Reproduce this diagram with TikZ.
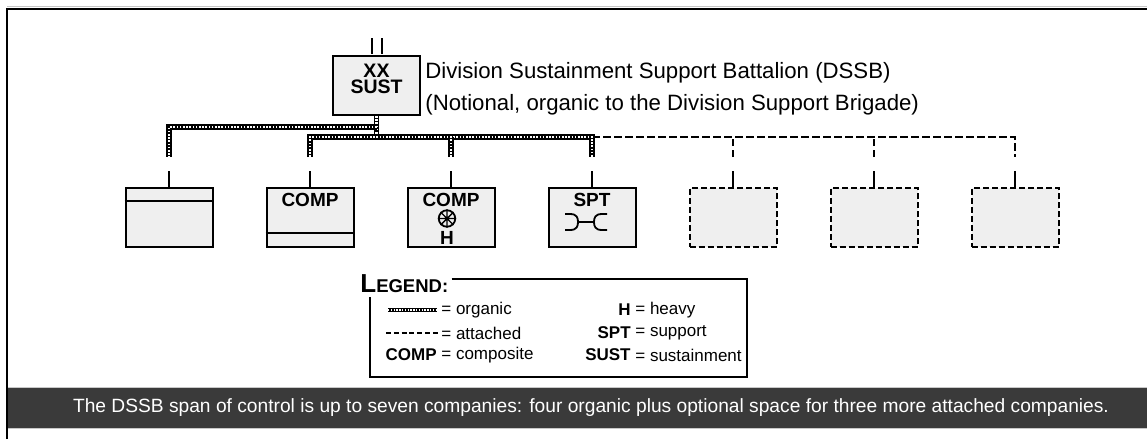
\documentclass[tikz,border=0pt]{standalone}
\usepackage{fontspec}
\setmainfont{Liberation Sans}
\usetikzlibrary{positioning,calc}
\definecolor{boxfill}{HTML}{EFEFEF}
\definecolor{bandgray}{HTML}{3A3A3A}
\definecolor{bandedge}{HTML}{C8C8C8}
\tikzset{every picture/.style={line width=0.75pt}}
\tikzset{
  unit/.style={draw, fill=boxfill, line width=2pt, minimum width=87pt, minimum height=59pt, inner sep=0pt},
  slot/.style={unit, dash pattern=on 6pt off 3pt},
  organic/.style={line width=5.5pt, postaction={draw=white, line width=2.2pt, dash pattern=on 1.6pt off 1.6pt}},
  orgsample/.style={line width=4.5pt, postaction={draw=white, line width=1.8pt, dash pattern=on 1.4pt off 1.4pt}},
  attached/.style={line width=2pt, dash pattern=on 7.5pt off 3.5pt},
  attsample/.style={line width=2pt, dash pattern=on 5pt off 2.8pt},
  stub/.style={line width=2pt},
  lbl/.style={font=\fontsize{19}{15}\selectfont\bfseries, inner sep=0pt},
  legtxt/.style={font=\fontsize{17}{20}\selectfont, inner sep=0pt},
  legkey/.style={font=\fontsize{17}{20}\selectfont\bfseries, inner sep=0pt, anchor=east},
}

\begin{document}
\begin{tikzpicture}[x=1pt,y=-1pt]
    \useasboundingbox (0,0) rectangle (1147,439);

    % Frame
    \draw[gray!45, line width=1pt] (7,6.3) -- (1147,6.3);
    \draw[line width=2.4pt] (7,439) -- (7,9) -- (1147,9);

    % Battalion
    \node[unit] (sust) at (376.5,85.5) {};
    \node[lbl, align=center, below=8.5pt of sust.north, font=\fontsize{19.5}{16}\selectfont\bfseries] (sustlbl) {XX\\SUST};
    \draw[stub] (372,38) -- (372,54);
    \draw[stub] (382,38) -- (382,54);
    \node[anchor=base west, inner sep=0pt, font=\fontsize{22.2}{26}\selectfont] (ttl) at (425,78.5) {Division Sustainment Support Battalion (DSSB)};
    \node[anchor=base west, inner sep=0pt, font=\fontsize{22.2}{26}\selectfont] (sub) at (425,110) {(Notional, organic to the Division Support Brigade)};

    % Companies
    \node[unit] (c1) at (169,217.5) {};
    \node[unit, right=52pt of c1] (c2) {};
    \node[unit, right=52pt of c2] (c3) {};
    \node[unit, right=52pt of c3] (c4) {};
    \node[slot, right=52pt of c4] (c5) {};
    \node[slot, right=52pt of c5] (c6) {};
    \node[slot, right=52pt of c6] (c7) {};

    \foreach \i in {1,...,7}{
        \coordinate (s\i) at ([yshift=16pt]c\i.north);
        \coordinate (d\i) at ([yshift=30pt]c\i.north);
        \draw[stub] (c\i.north) -- (s\i);
    }
    \coordinate (upper) at (376.5,127);
    \coordinate (lower) at (376.5,137);

    % Attached
    \draw[attached] (d4 |- lower) -| (d7);
    \draw[attached] (d5) -- (d5 |- lower);
    \draw[attached] (d6) -- (d6 |- lower);
    % Organic
    \draw[organic] (sust.south) -- (lower);
    \draw[organic] (upper) -| (d1);
    \draw[organic] (d2) |- (d4 |- lower) -- (d4);
    \draw[organic] (d3) -- (d3 |- lower);

    % Company marks
    \draw[stub] ([yshift=-14pt]c1.north west) -- ([yshift=-14pt]c1.north east);
    \node[lbl, below=5.5pt of c2.north] (t2) {COMP};
    \draw[stub] ([yshift=15pt]c2.south west) -- ([yshift=15pt]c2.south east);
    \node[lbl, below=5.5pt of c3.north] (t3) {COMP};
    \node[circle, draw, line width=1.8pt, minimum size=16.5pt, inner sep=0pt] (hv) at (447,218.5) {};
    \draw[line width=1.4pt] (hv.north) -- (hv.south) (hv.east) -- (hv.west)
        (hv.45) -- (hv.225) (hv.135) -- (hv.315);
    \node[lbl, below=3pt of hv] (h3) {H};
    \node[lbl, below=5.5pt of c4.north] (t4) {SPT};
    \draw[line width=1.8pt] (565,214) -- (570,214) .. controls (577,214) and (578,218) .. (578,222)
        .. controls (578,226) and (577,230) .. (570,230) -- (565,230);
    \draw[line width=1.8pt] (578,222) -- (594,222);
    \draw[line width=1.8pt] (607,214) -- (602,214) .. controls (595,214) and (594,218) .. (594,222)
        .. controls (594,226) and (595,230) .. (602,230) -- (607,230);

    % Legend
    \node[anchor=base west, inner sep=0pt] (leg) at (360,292)
        {\bfseries\fontsize{26}{26}\selectfont L\fontsize{18.5}{18.5}\selectfont EGEND:};
    \draw[line width=1.4pt] ([xshift=3pt]leg.east |- 0,279) -- (747,279) -- (747,377) -- (370,377) -- (370,297);
    \draw[orgsample] (388,310) -- (437,310);
    \node[legtxt, anchor=west] (lo) at (441,310) {= organic};
    \draw[attsample] (386,333) -- (438,333);
    \node[legtxt, anchor=west] (la) at (441,333) {= attached};
    \node[legkey] (lck) at (437,355) {COMP};
    \node[legtxt, anchor=west] (lcv) at (441,355) {= composite};
    \node[legkey] (lhk) at (631,310) {H};
    \node[legtxt, anchor=west] (lhv) at (635,310) {= heavy};
    \node[legkey] (lsk) at (631,333) {SPT};
    \node[legtxt, anchor=west] (lsv) at (635,333) {= support};
    \node[legkey] (luk) at (631,355) {SUST};
    \node[legtxt, anchor=west] (luv) at (635,355) {= sustainment};

    % Note band
    \fill[bandgray] (8,387) rectangle (1147,428);
    \draw[bandedge, line width=1pt] (8,387) -- (1147,387) (8,428) -- (1147,428);
    \node[text=white, inner sep=0pt, font=\fontsize{19.2}{22}\selectfont] (note) at (591,408)
        {The DSSB span of control is up to seven companies: four organic plus optional space for three more attached companies.};
\end{tikzpicture}
\end{document}
